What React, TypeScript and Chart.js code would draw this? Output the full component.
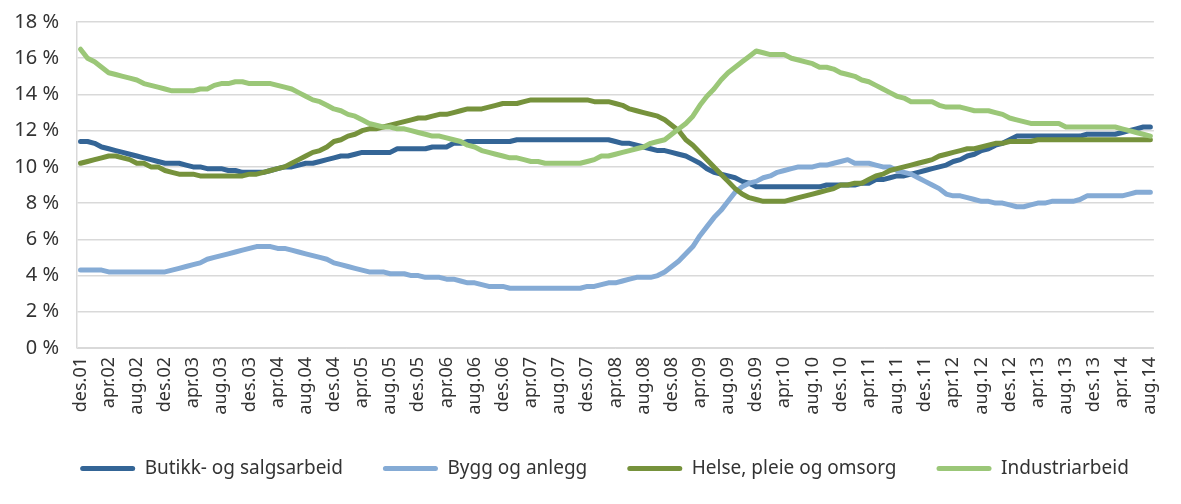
import React, { useEffect, useRef } from "react";
import { Chart, registerables } from "chart.js";

Chart.register(...registerables);

const MONTH_NAMES = ["jan", "feb", "mar", "apr", "mai", "jun", "jul", "aug", "sep", "okt", "nov", "des"];
// Monthly categories from des.01 to aug.14 (153 months)
const categories: string[] = [];
for (let k = 0; k < 153; k++) {
  const m = (11 + k) % 12;
  const y = 1 + Math.floor((11 + k) / 12);
  categories.push(`${MONTH_NAMES[m]}.${String(y).padStart(2, "0")}`);
}

const yTicks = [0, 2, 4, 6, 8, 10, 12, 14, 16, 18];

const butikk = [
  11.4, 11.4, 11.3, 11.1, 11.0, 10.9, 10.8, 10.7, 10.6, 10.5,
  10.4, 10.3, 10.2, 10.2, 10.2, 10.1, 10.0, 10.0, 9.9, 9.9,
  9.9, 9.8, 9.8, 9.7, 9.7, 9.7, 9.7, 9.8, 9.9, 10.0,
  10.0, 10.1, 10.2, 10.2, 10.3, 10.4, 10.5, 10.6, 10.6, 10.7,
  10.8, 10.8, 10.8, 10.8, 10.8, 11.0, 11.0, 11.0, 11.0, 11.0,
  11.1, 11.1, 11.1, 11.3, 11.3, 11.4, 11.4, 11.4, 11.4, 11.4,
  11.4, 11.4, 11.5, 11.5, 11.5, 11.5, 11.5, 11.5, 11.5, 11.5,
  11.5, 11.5, 11.5, 11.5, 11.5, 11.5, 11.4, 11.3, 11.3, 11.2,
  11.1, 11.0, 10.9, 10.9, 10.8, 10.7, 10.6, 10.4, 10.2, 9.9,
  9.7, 9.6, 9.5, 9.4, 9.2, 9.1, 8.9, 8.9, 8.9, 8.9,
  8.9, 8.9, 8.9, 8.9, 8.9, 8.9, 9.0, 9.0, 9.0, 9.0,
  9.0, 9.1, 9.1, 9.3, 9.3, 9.4, 9.5, 9.5, 9.6, 9.7,
  9.8, 9.9, 10.0, 10.1, 10.3, 10.4, 10.6, 10.7, 10.9, 11.0,
  11.2, 11.3, 11.5, 11.7, 11.7, 11.7, 11.7, 11.7, 11.7, 11.7,
  11.7, 11.7, 11.7, 11.8, 11.8, 11.8, 11.8, 11.8, 11.9, 12.0,
  12.1, 12.2, 12.2,
];

const bygg = [
  4.3, 4.3, 4.3, 4.3, 4.2, 4.2, 4.2, 4.2, 4.2, 4.2,
  4.2, 4.2, 4.2, 4.3, 4.4, 4.5, 4.6, 4.7, 4.9, 5.0,
  5.1, 5.2, 5.3, 5.4, 5.5, 5.6, 5.6, 5.6, 5.5, 5.5,
  5.4, 5.3, 5.2, 5.1, 5.0, 4.9, 4.7, 4.6, 4.5, 4.4,
  4.3, 4.2, 4.2, 4.2, 4.1, 4.1, 4.1, 4.0, 4.0, 3.9,
  3.9, 3.9, 3.8, 3.8, 3.7, 3.6, 3.6, 3.5, 3.4, 3.4,
  3.4, 3.3, 3.3, 3.3, 3.3, 3.3, 3.3, 3.3, 3.3, 3.3,
  3.3, 3.3, 3.4, 3.4, 3.5, 3.6, 3.6, 3.7, 3.8, 3.9,
  3.9, 3.9, 4.0, 4.2, 4.5, 4.8, 5.2, 5.6, 6.2, 6.7,
  7.2, 7.6, 8.1, 8.6, 8.9, 9.1, 9.2, 9.4, 9.5, 9.7,
  9.8, 9.9, 10.0, 10.0, 10.0, 10.1, 10.1, 10.2, 10.3, 10.4,
  10.2, 10.2, 10.2, 10.1, 10.0, 10.0, 9.8, 9.7, 9.6, 9.4,
  9.2, 9.0, 8.8, 8.5, 8.4, 8.4, 8.3, 8.2, 8.1, 8.1,
  8.0, 8.0, 7.9, 7.8, 7.8, 7.9, 8.0, 8.0, 8.1, 8.1,
  8.1, 8.1, 8.2, 8.4, 8.4, 8.4, 8.4, 8.4, 8.4, 8.5,
  8.6, 8.6, 8.6,
];

const helse = [
  10.2, 10.3, 10.4, 10.5, 10.6, 10.6, 10.5, 10.4, 10.2, 10.2,
  10.0, 10.0, 9.8, 9.7, 9.6, 9.6, 9.6, 9.5, 9.5, 9.5,
  9.5, 9.5, 9.5, 9.5, 9.6, 9.6, 9.7, 9.8, 9.9, 10.0,
  10.2, 10.4, 10.6, 10.8, 10.9, 11.1, 11.4, 11.5, 11.7, 11.8,
  12.0, 12.1, 12.1, 12.2, 12.3, 12.4, 12.5, 12.6, 12.7, 12.7,
  12.8, 12.9, 12.9, 13.0, 13.1, 13.2, 13.2, 13.2, 13.3, 13.4,
  13.5, 13.5, 13.5, 13.6, 13.7, 13.7, 13.7, 13.7, 13.7, 13.7,
  13.7, 13.7, 13.7, 13.6, 13.6, 13.6, 13.5, 13.4, 13.2, 13.1,
  13.0, 12.9, 12.8, 12.6, 12.3, 12.0, 11.5, 11.2, 10.8, 10.4,
  10.0, 9.6, 9.2, 8.8, 8.5, 8.3, 8.2, 8.1, 8.1, 8.1,
  8.1, 8.2, 8.3, 8.4, 8.5, 8.6, 8.7, 8.8, 9.0, 9.0,
  9.1, 9.1, 9.3, 9.5, 9.6, 9.8, 9.9, 10.0, 10.1, 10.2,
  10.3, 10.4, 10.6, 10.7, 10.8, 10.9, 11.0, 11.0, 11.1, 11.2,
  11.3, 11.3, 11.4, 11.4, 11.4, 11.4, 11.5, 11.5, 11.5, 11.5,
  11.5, 11.5, 11.5, 11.5, 11.5, 11.5, 11.5, 11.5, 11.5, 11.5,
  11.5, 11.5, 11.5,
];

const industri = [
  16.5, 16.0, 15.8, 15.5, 15.2, 15.1, 15.0, 14.9, 14.8, 14.6,
  14.5, 14.4, 14.3, 14.2, 14.2, 14.2, 14.2, 14.3, 14.3, 14.5,
  14.6, 14.6, 14.7, 14.7, 14.6, 14.6, 14.6, 14.6, 14.5, 14.4,
  14.3, 14.1, 13.9, 13.7, 13.6, 13.4, 13.2, 13.1, 12.9, 12.8,
  12.6, 12.4, 12.3, 12.2, 12.2, 12.1, 12.1, 12.0, 11.9, 11.8,
  11.7, 11.7, 11.6, 11.5, 11.4, 11.2, 11.1, 10.9, 10.8, 10.7,
  10.6, 10.5, 10.5, 10.4, 10.3, 10.3, 10.2, 10.2, 10.2, 10.2,
  10.2, 10.2, 10.3, 10.4, 10.6, 10.6, 10.7, 10.8, 10.9, 11.0,
  11.1, 11.3, 11.4, 11.5, 11.8, 12.1, 12.4, 12.8, 13.4, 13.9,
  14.3, 14.8, 15.2, 15.5, 15.8, 16.1, 16.4, 16.3, 16.2, 16.2,
  16.2, 16.0, 15.9, 15.8, 15.7, 15.5, 15.5, 15.4, 15.2, 15.1,
  15.0, 14.8, 14.7, 14.5, 14.3, 14.1, 13.9, 13.8, 13.6, 13.6,
  13.6, 13.6, 13.4, 13.3, 13.3, 13.3, 13.2, 13.1, 13.1, 13.1,
  13.0, 12.9, 12.7, 12.6, 12.5, 12.4, 12.4, 12.4, 12.4, 12.4,
  12.2, 12.2, 12.2, 12.2, 12.2, 12.2, 12.2, 12.2, 12.1, 12.0,
  11.9, 11.8, 11.7,
];

const seriesNames = ["Butikk- og salgsarbeid", "Bygg og anlegg", "Helse, pleie og omsorg", "Industriarbeid"];
const seriesColors = ["#346596", "#85abd5", "#76923c", "#9bc778"];

const FONT = "'Noto Sans', 'DejaVu Sans', sans-serif";
const TEXT = "#333333";
const GRID = "#d9d9d9";

// Shift the legend's box so it is centred like the original (Excel centres it on a wider area)
const legendShift = {
  id: "legendShift",
  afterLayout(chart: any) {
    const l = chart.legend;
    if (l) {
      l.left = 28;
      l.right = 1181;
    }
  },
};

export default function App() {
  const ref = useRef<HTMLCanvasElement | null>(null);

  useEffect(() => {
    if (!ref.current) return;
    const all = [butikk, bygg, helse, industri];
    const chart = new Chart(ref.current, {
      type: "line",
      data: {
        labels: categories,
        datasets: all.map((d, i) => ({
          label: seriesNames[i],
          data: d,
          borderColor: seriesColors[i],
          backgroundColor: seriesColors[i],
          borderWidth: 5,
          pointRadius: 0,
          pointHoverRadius: 0,
          tension: 0,
          fill: false,
          borderCapStyle: "round" as const,
          borderJoinStyle: "round" as const,
          order: 4 - i,
        })),
      },
      plugins: [legendShift],
      options: {
        responsive: false,
        animation: false,
        devicePixelRatio: 1,
        layout: { padding: { left: 0, right: 10, top: 22, bottom: 16 } },
        plugins: {
          tooltip: { enabled: false },
          legend: {
            position: "bottom",
            labels: {
              boxWidth: 55,
              boxHeight: 5,
              padding: 40,
              color: TEXT,
              font: { family: FONT, size: 19 },
              useBorderRadius: true,
              borderRadius: 2.5,
              sort: (a: any, b: any) => a.datasetIndex - b.datasetIndex,
              generateLabels: (c: any) =>
                Chart.defaults.plugins.legend.labels
                  .generateLabels(c)
                  .map((l: any) => ({ ...l, lineWidth: 0, borderRadius: 2.5 })),
            },
          },
        },
        scales: {
          x: {
            type: "category",
            offset: true,
            grid: { display: false, drawTicks: false },
            border: { display: true, color: GRID },
            ticks: {
              autoSkip: false,
              maxRotation: 90,
              minRotation: 90,
              padding: 9,
              color: TEXT,
              font: { family: FONT, size: 18 },
              callback: (_v: any, idx: number) => (idx % 4 === 0 ? categories[idx] : ""),
            },
            afterFit: (s: any) => {
              s.height = 71;
            },
          },
          y: {
            min: 0,
            max: 18,
            afterBuildTicks: (s: any) => {
              s.ticks = yTicks.map((v) => ({ value: v }));
            },
            grid: { color: GRID, drawTicks: false, lineWidth: 1.5 },
            border: { display: true, color: GRID, width: 1.5 },
            ticks: {
              padding: 18,
              color: TEXT,
              font: { family: FONT, size: 20 },
              callback: (v: any) => `${v} %`,
            },
            afterFit: (s: any) => {
              s.width = 77;
              s.paddingTop = 0;
              s.paddingBottom = 0;
            },
          },
        },
      },
    });
    return () => chart.destroy();
  }, []);

  return (
    <div style={{ position: "fixed", left: 0, top: 0, width: 1181, height: 504, background: "#fff" }}>
      <canvas ref={ref} width={1181} height={504} style={{ display: "block" }} />
    </div>
  );
}
